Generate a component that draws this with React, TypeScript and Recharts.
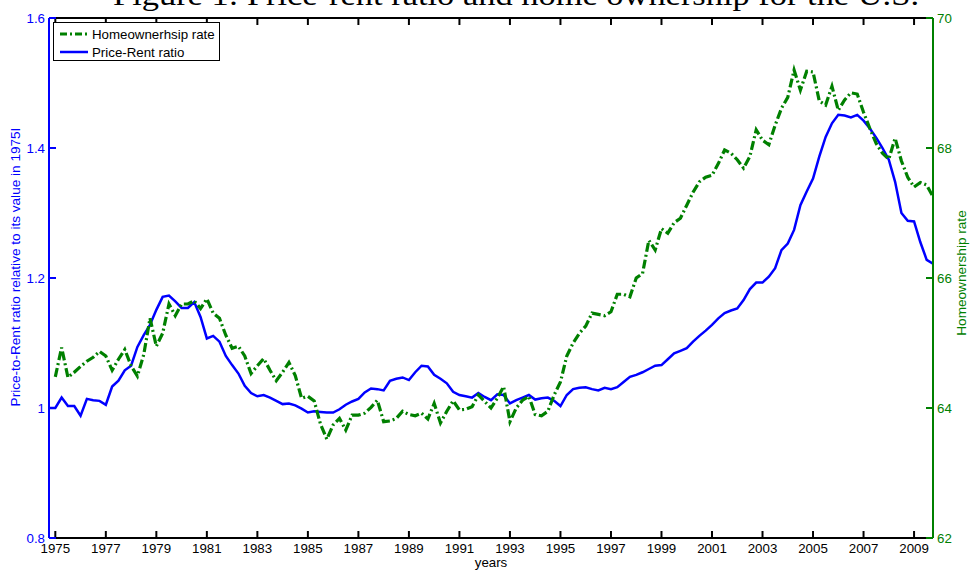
import React from 'react';
import { LineChart, Line, XAxis, YAxis } from 'recharts';

const START_QUARTER = 1974.75;

const priceRent: number[] = [
  1.000,
  1.000, 1.016, 1.003, 1.003,
  0.988, 1.014, 1.012, 1.011,
  1.005, 1.033, 1.042, 1.058,
  1.065, 1.094, 1.112, 1.128,
  1.151, 1.171, 1.173, 1.164,
  1.154, 1.154, 1.163, 1.140,
  1.107, 1.111, 1.102, 1.080,
  1.066, 1.053, 1.034, 1.023,
  1.018, 1.020, 1.016, 1.011,
  1.006, 1.007, 1.004, 0.999,
  0.993, 0.995, 0.994, 0.993,
  0.993, 0.998, 1.005, 1.010,
  1.014, 1.024, 1.030, 1.029,
  1.027, 1.042, 1.045, 1.047,
  1.043, 1.055, 1.065, 1.064,
  1.051, 1.045, 1.038, 1.025,
  1.020, 1.018, 1.016, 1.023,
  1.017, 1.012, 1.021, 1.020,
  1.007, 1.012, 1.016, 1.020,
  1.013, 1.015, 1.016, 1.011,
  1.003, 1.020, 1.029, 1.031,
  1.032, 1.029, 1.027, 1.031,
  1.029, 1.032, 1.040, 1.048,
  1.051, 1.055, 1.060, 1.065,
  1.066, 1.075, 1.084, 1.088,
  1.092, 1.102, 1.111, 1.119,
  1.128, 1.138, 1.146, 1.150,
  1.153, 1.166, 1.183, 1.193,
  1.193, 1.202, 1.215, 1.243,
  1.253, 1.274, 1.312, 1.333,
  1.353, 1.387, 1.417, 1.438,
  1.451, 1.450, 1.447, 1.451,
  1.442, 1.430, 1.416, 1.400,
  1.382, 1.348, 1.300, 1.288,
  1.287, 1.255, 1.228, 1.222,
];

const homeownership: (number | null)[] = [
  null,
  64.48, 64.93, 64.47, 64.55,
  64.64, 64.72, 64.78, 64.87,
  64.80, 64.58, 64.75, 64.90,
  64.65, 64.49, 64.82, 65.38,
  64.95, 65.15, 65.60, 65.42,
  65.60, 65.60, 65.65, 65.53,
  65.68, 65.46, 65.38, 65.12,
  64.92, 64.95, 64.80, 64.53,
  64.65, 64.76, 64.58, 64.42,
  64.55, 64.70, 64.50, 64.15,
  64.18, 64.11, 63.75, 63.52,
  63.74, 63.84, 63.66, 63.89,
  63.89, 63.92, 64.01, 64.12,
  63.79, 63.80, 63.84, 63.95,
  63.90, 63.88, 63.92, 63.83,
  64.07, 63.77, 63.95, 64.11,
  63.97, 63.98, 64.02, 64.20,
  64.10, 64.00, 64.15, 64.33,
  63.79, 64.00, 64.12, 64.18,
  63.90, 63.88, 63.95, 64.20,
  64.40, 64.80, 65.00, 65.15,
  65.26, 65.46, 65.44, 65.42,
  65.48, 65.75, 65.75, 65.71,
  66.00, 66.07, 66.58, 66.43,
  66.76, 66.69, 66.85, 66.92,
  67.12, 67.32, 67.48, 67.55,
  67.58, 67.76, 67.97, 67.92,
  67.82, 67.69, 67.87, 68.28,
  68.12, 68.05, 68.35, 68.61,
  68.78, 69.20, 68.89, 69.18,
  69.17, 68.72, 68.66, 68.95,
  68.58, 68.74, 68.85, 68.83,
  68.55, 68.30, 68.07, 67.92,
  67.83, 68.15, 67.80, 67.55,
  67.40, 67.47, 67.43, 67.25,
];

const yearTicks = [1975, 1977, 1979, 1981, 1983, 1985, 1987, 1989, 1991, 1993, 1995, 1997, 1999, 2001, 2003, 2005, 2007, 2009];
const leftTicks = [0.8, 1, 1.2, 1.4, 1.6];
const rightTicks = [62, 64, 66, 68, 70];

const TITLE = 'Figure 1: Price-rent ratio and home ownership for the U.S.';
const LEFT_LABEL = 'Price-to-Rent ratio relative to its value in 1975I';
const RIGHT_LABEL = 'Homeownership rate';
const X_LABEL = 'years';
const LEGEND_HOME = 'Homeownerhsip rate';
const LEGEND_PR = 'Price-Rent ratio';

const data = priceRent.map((v, i) => ({
  t: START_QUARTER + i * 0.25,
  pr: v,
  home: homeownership[i],
}));

const FONT = '"Liberation Sans", Arial, Helvetica, sans-serif';
const FS = 13.3;
const BLUE = '#0000ff';
const GREEN = '#008000';

const BottomTick = (props: any) => {
  const { x, y, payload } = props;
  return (
    <g>
      <line x1={x} x2={x} y1={y} y2={y - 7} stroke="#000" strokeWidth={2} />
      <text x={x} y={y + 15} textAnchor="middle" fill="#000" fontSize={FS} fontFamily={FONT}>
        {payload.value}
      </text>
    </g>
  );
};

const TopTick = (props: any) => {
  const { x, y } = props;
  return <line x1={x} x2={x} y1={y} y2={y + 7} stroke="#000" strokeWidth={2} />;
};

const LeftTick = (props: any) => {
  const { x, y, payload } = props;
  return (
    <g>
      <line x1={x} x2={x + 7} y1={y} y2={y} stroke={BLUE} strokeWidth={2} />
      <text x={x - 4} y={y + 5} textAnchor="end" fill={BLUE} fontSize={FS} fontFamily={FONT}>
        {String(payload.value)}
      </text>
    </g>
  );
};

const RightTick = (props: any) => {
  const { x, y, payload } = props;
  return (
    <g>
      <line x1={x} x2={x - 7} y1={y} y2={y} stroke={GREEN} strokeWidth={2} />
      <text x={x + 4} y={y + 5} textAnchor="start" fill={GREEN} fontSize={FS} fontFamily={FONT}>
        {String(payload.value)}
      </text>
    </g>
  );
};

export default function App() {
  return (
    <div style={{ position: 'absolute', left: 0, top: 0, width: 971, height: 572, background: '#fff' }}>
      <LineChart
        width={971}
        height={572}
        data={data}
        margin={{ top: 17, right: 37, bottom: 33, left: 48 }}
      >
        <XAxis
          xAxisId="b"
          dataKey="t"
          type="number"
          orientation="bottom"
          domain={[1974.75, 2009.75]}
          ticks={yearTicks}
          interval={0}
          height={1}
          tickSize={0}
          tickMargin={0}
          tickLine={false}
          axisLine={{ stroke: '#000', strokeWidth: 2 }}
          tick={<BottomTick />}
          allowDataOverflow
          label={{
            content: () => (
              <text x={491} y={567} textAnchor="middle" fill="#000" fontSize={FS} fontFamily={FONT}>
                {X_LABEL}
              </text>
            ),
          }}
        />
        <XAxis
          xAxisId="t"
          dataKey="t"
          type="number"
          orientation="top"
          domain={[1974.75, 2009.75]}
          ticks={yearTicks}
          interval={0}
          height={1}
          tickSize={0}
          tickMargin={0}
          tickLine={false}
          axisLine={{ stroke: '#000', strokeWidth: 2 }}
          tick={<TopTick />}
          allowDataOverflow
        />
        <YAxis
          yAxisId="l"
          orientation="left"
          width={1}
          domain={[0.8, 1.6]}
          ticks={leftTicks}
          interval={0}
          tickSize={0}
          tickMargin={0}
          tickLine={false}
          axisLine={{ stroke: BLUE, strokeWidth: 2 }}
          tick={<LeftTick />}
          allowDataOverflow
          label={{
            content: () => (
              <text
                x={20}
                y={267}
                transform="rotate(-90 20 267)"
                textAnchor="middle"
                fill={BLUE}
                fontSize={13.6}
                fontFamily={FONT}
              >
                {LEFT_LABEL}
              </text>
            ),
          }}
        />
        <YAxis
          yAxisId="r"
          orientation="right"
          width={1}
          domain={[62, 70]}
          ticks={rightTicks}
          interval={0}
          tickSize={0}
          tickMargin={0}
          tickLine={false}
          axisLine={{ stroke: GREEN, strokeWidth: 2 }}
          tick={<RightTick />}
          allowDataOverflow
          label={{
            content: () => (
              <text
                x={966}
                y={273}
                transform="rotate(-90 966 273)"
                textAnchor="middle"
                fill={GREEN}
                fontSize={13.6}
                fontFamily={FONT}
              >
                {RIGHT_LABEL}
              </text>
            ),
          }}
        />
        <Line
          xAxisId="b"
          yAxisId="l"
          dataKey="pr"
          type="linear"
          stroke={BLUE}
          strokeWidth={2.5}
          dot={false}
          activeDot={false}
          isAnimationActive={false}
        />
        <Line
          xAxisId="b"
          yAxisId="r"
          dataKey="home"
          type="linear"
          stroke={GREEN}
          strokeWidth={3.2}
          strokeDasharray="9 3 2 3"
          dot={false}
          activeDot={false}
          isAnimationActive={false}
        />
      </LineChart>

      <svg
        width={971}
        height={20}
        style={{ position: 'absolute', left: 0, top: 0, pointerEvents: 'none' }}
      >
        <text
          x={113}
          y={5}
          fontFamily='"Liberation Serif", "Times New Roman", serif'
          fontSize={29}
          fill="#000"
          textLength={806}
          lengthAdjust="spacingAndGlyphs"
        >
          {TITLE}
        </text>
      </svg>

      <div
        style={{
          position: 'absolute',
          left: 53,
          top: 22,
          width: 165,
          height: 37,
          border: '1px solid #000',
          background: '#fff',
          fontFamily: FONT,
          fontSize: FS,
          color: '#000',
        }}
      >
        <div style={{ position: 'absolute', left: 5, top: 3, height: 16, display: 'flex', alignItems: 'center', whiteSpace: 'nowrap' }}>
          <svg width={30} height={10} style={{ marginRight: 3 }}>
            <line x1={1} x2={29} y1={5} y2={5} stroke={GREEN} strokeWidth={3.2} strokeDasharray="7 3 2 3" />
          </svg>
          <span>{LEGEND_HOME}</span>
        </div>
        <div style={{ position: 'absolute', left: 5, top: 21, height: 16, display: 'flex', alignItems: 'center', whiteSpace: 'nowrap' }}>
          <svg width={30} height={10} style={{ marginRight: 3 }}>
            <line x1={1} x2={29} y1={5} y2={5} stroke={BLUE} strokeWidth={2.5} />
          </svg>
          <span>{LEGEND_PR}</span>
        </div>
      </div>
    </div>
  );
}
